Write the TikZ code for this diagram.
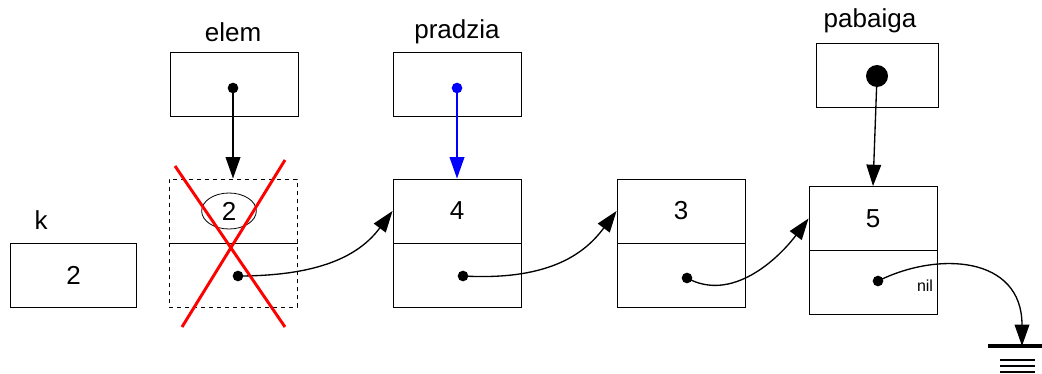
\documentclass[tikz,border=0pt]{standalone}
\usepackage{fontspec}
\setmainfont{Liberation Sans}
\usetikzlibrary{arrows.meta}
\usetikzlibrary{shapes.geometric}

\tikzset{
  txt/.style={font=\fontsize{19.5}{22}\selectfont},
  cell/.style={draw, line width=0.7pt, minimum width=96pt, minimum height=48pt, inner sep=0pt, txt},
  gone/.style={cell, dashed},
  dot/.style={circle, fill, inner sep=0pt, minimum size=8pt},
  ptr/.style={line width=1pt, -{Triangle[length=16pt,width=11pt]}},
}

\begin{document}
\begin{tikzpicture}[x=0.75pt,y=-0.75pt]
    \useasboundingbox (0,0) rectangle (1042,374);

    \node[txt] (elemlbl) at (233,32) {elem};
    \node[txt] (pradlbl) at (457,32) {pradzia};
    \node[txt] (pablbl) at (870,21) {pabaiga};
    \node[txt] (klbl) at (41,220) {k};

    \node[cell] (elem) at (234,84.5) {};
    \node[cell] (prad) at (457,84.5) {};
    \node[cell, minimum width=91.5pt] (pab) at (877,75) {};
    \node[cell, minimum width=95pt] (k) at (73.5,275) {2};

    \node[gone] (d2) at (233,211) {};
    \node[gone] (p2) at (233,275) {};
    \node[cell] (d4) at (457,211) {4};
    \node[cell] (p4) at (457,275) {};
    \node[cell] (d3) at (681,211) {3};
    \node[cell] (p3) at (681,275) {};
    \node[cell] (d5) at (873,218.5) {5};
    \node[cell] (p5) at (873,282.5) {};

    \node[txt, draw, ellipse, line width=0.6pt, minimum width=41pt, minimum height=27pt, inner sep=0pt] (val2) at (229,211) {2};
    \node[font=\fontsize{12}{14}\selectfont] (nil) at (925,286) {nil};

    \node[dot] (edot) at (233,88) {};
    \node[dot, blue] (prdot) at (457,88) {};
    \node[dot, minimum size=16.5pt] (pabdot) at (877,76) {};
    \node[dot] (dot2) at (238,276) {};
    \node[dot] (dot4) at (463,276) {};
    \node[dot] (dot3) at (687,278) {};
    \node[dot] (dot5) at (878,281) {};

    \draw[ptr] (edot.center) -- (d2.north);
    \draw[ptr, blue] (prdot.center) -- (d4.north);
    \draw[ptr] (pabdot.center) -- (d5.north);

    \draw[ptr] (dot2.center) .. controls +(90,0) and +(-30,40) .. (d4.west);
    \draw[ptr] (dot4.center) .. controls +(90,5) and +(-30,40) .. (d3.west);
    \draw[ptr] (dot3.center) .. controls +(45,25) and +(-30,40) .. (d5.west);

    % nil -> ground
    \coordinate (gnd) at (1022,346);
    \draw[ptr] (dot5.center) .. controls +(60,-30) and +(0,-90) .. (gnd);
    \draw[line width=3pt] (988,346) -- (1042,346);
    \foreach \yy in {360,366,372}
      \draw[line width=1.5pt] (1000,\yy) -- (1035,\yy);

    \draw[red, line width=2.2pt] (175,166) -- (285,327);
    \draw[red, line width=2.2pt] (285,160) -- (182,327);
\end{tikzpicture}
\end{document}
